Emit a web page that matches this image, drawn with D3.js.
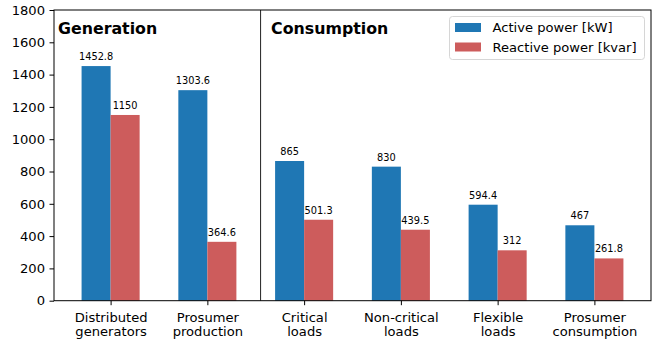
<!DOCTYPE html>
<html>
<head>
<meta charset="utf-8">
<script src="https://cdn.jsdelivr.net/npm/d3@7/dist/d3.min.js"></script>
<style>
  html, body { margin: 0; padding: 0; background: #fff; }
  svg { display: block; font-family: "DejaVu Sans", sans-serif; }
</style>
</head>
<body>
<svg id="chart" width="670" height="343"></svg>
<script>
// Power per node category
const categories = [
  ["Distributed", "generators"],
  ["Prosumer", "production"],
  ["Critical", "loads"],
  ["Non-critical", "loads"],
  ["Flexible", "loads"],
  ["Prosumer", "consumption"]
];
const activePower = [1452.8, 1303.6, 865, 830, 594.4, 467];
const reactivePower = [1150, 364.6, 501.3, 439.5, 312, 261.8];
const seriesNames = ["Active power [kW]", "Reactive power [kvar]"];
const seriesColors = ["#1f77b4", "#cd5c5c"];
const yTicks = [0, 200, 400, 600, 800, 1000, 1200, 1400, 1600, 1800];
const groupTitles = ["Generation", "Consumption"];
const dividerPos = 1.55;
const barWidth = 0.3;

const svg = d3.select("#chart");
const plotLeft = 54, plotRight = 651, plotTop = 10, plotBottom = 300.7;
const labelSize = "13.1px";

const x = d3.scaleLinear().domain([-0.585, categories.length - 1 + 0.585]).range([plotLeft, plotRight]);
const y = d3.scaleLinear().domain([0, 1800]).range([plotBottom, plotTop]);

const idx = d3.range(categories.length);
const series = [activePower, reactivePower];

// bars and value labels
series.forEach((vals, s) => {
  const off = s === 0 ? -barWidth : 0;
  svg.append("g").selectAll("rect").data(idx).join("rect")
    .attr("x", i => x(i + off))
    .attr("width", x(barWidth) - x(0))
    .attr("y", i => y(vals[i]))
    .attr("height", i => y(0) - y(vals[i]))
    .attr("fill", seriesColors[s]);
  svg.append("g").selectAll("text").data(idx).join("text")
    .attr("x", i => x(i + off + barWidth / 2))
    .attr("y", i => y(vals[i]) - 6)
    .attr("text-anchor", "middle")
    .attr("font-size", "9.8px")
    .attr("fill", "#000")
    .text(i => vals[i]);
});

// divider between generation and consumption
svg.append("line")
  .attr("x1", x(dividerPos)).attr("x2", x(dividerPos))
  .attr("y1", y(1800)).attr("y2", y(0))
  .attr("stroke", "#222").attr("stroke-width", 1);

// group titles
svg.append("text").attr("x", 58).attr("y", 34)
  .attr("font-size", "15.8px").attr("font-weight", "bold").text(groupTitles[0]);
svg.append("text").attr("x", x(dividerPos) + 10.5).attr("y", 34)
  .attr("font-size", "15.8px").attr("font-weight", "bold").text(groupTitles[1]);

// y axis
const yAxis = d3.axisLeft(y).tickValues(yTicks).tickSize(4.5).tickPadding(4.5).tickFormat(d3.format("d"));
const gy = svg.append("g").attr("transform", `translate(${plotLeft},0)`).call(yAxis);
gy.selectAll("text").attr("font-size", labelSize).attr("font-family", "DejaVu Sans").attr("fill", "#000");
gy.select(".domain").remove();

// x axis ticks with two-line labels
const xAxis = d3.axisBottom(x).tickValues(idx).tickSize(4.5).tickFormat("");
const gx = svg.append("g").attr("transform", `translate(0,${plotBottom})`).call(xAxis);
gx.select(".domain").remove();
gx.selectAll(".tick").each(function (i) {
  const t = d3.select(this).append("text")
    .attr("text-anchor", "middle")
    .attr("font-size", labelSize)
    .attr("font-family", "DejaVu Sans")
    .attr("fill", "#000");
  t.append("tspan").attr("x", 0).attr("y", 21).text(categories[i][0]);
  t.append("tspan").attr("x", 0).attr("y", 35.5).text(categories[i][1]);
});

// frame
svg.append("rect")
  .attr("x", plotLeft).attr("y", plotTop)
  .attr("width", plotRight - plotLeft).attr("height", plotBottom - plotTop)
  .attr("fill", "none").attr("stroke", "#000").attr("stroke-width", 1);

// legend
const lg = svg.append("g");
lg.append("rect")
  .attr("x", 449.5).attr("y", 16.5).attr("width", 195).attr("height", 43)
  .attr("rx", 3).attr("fill", "#fff").attr("fill-opacity", 0.8)
  .attr("stroke", "#d6d6d6").attr("stroke-width", 1);
seriesNames.forEach((name, s) => {
  const cy = 27.5 + s * 19.5;
  lg.append("rect").attr("x", 455).attr("y", cy - 4.5).attr("width", 26).attr("height", 9)
    .attr("fill", seriesColors[s]);
  lg.append("text").attr("x", 492.5).attr("y", cy + 4.5)
    .attr("font-size", labelSize).attr("fill", "#000").text(name);
});
</script>
</body>
</html>
